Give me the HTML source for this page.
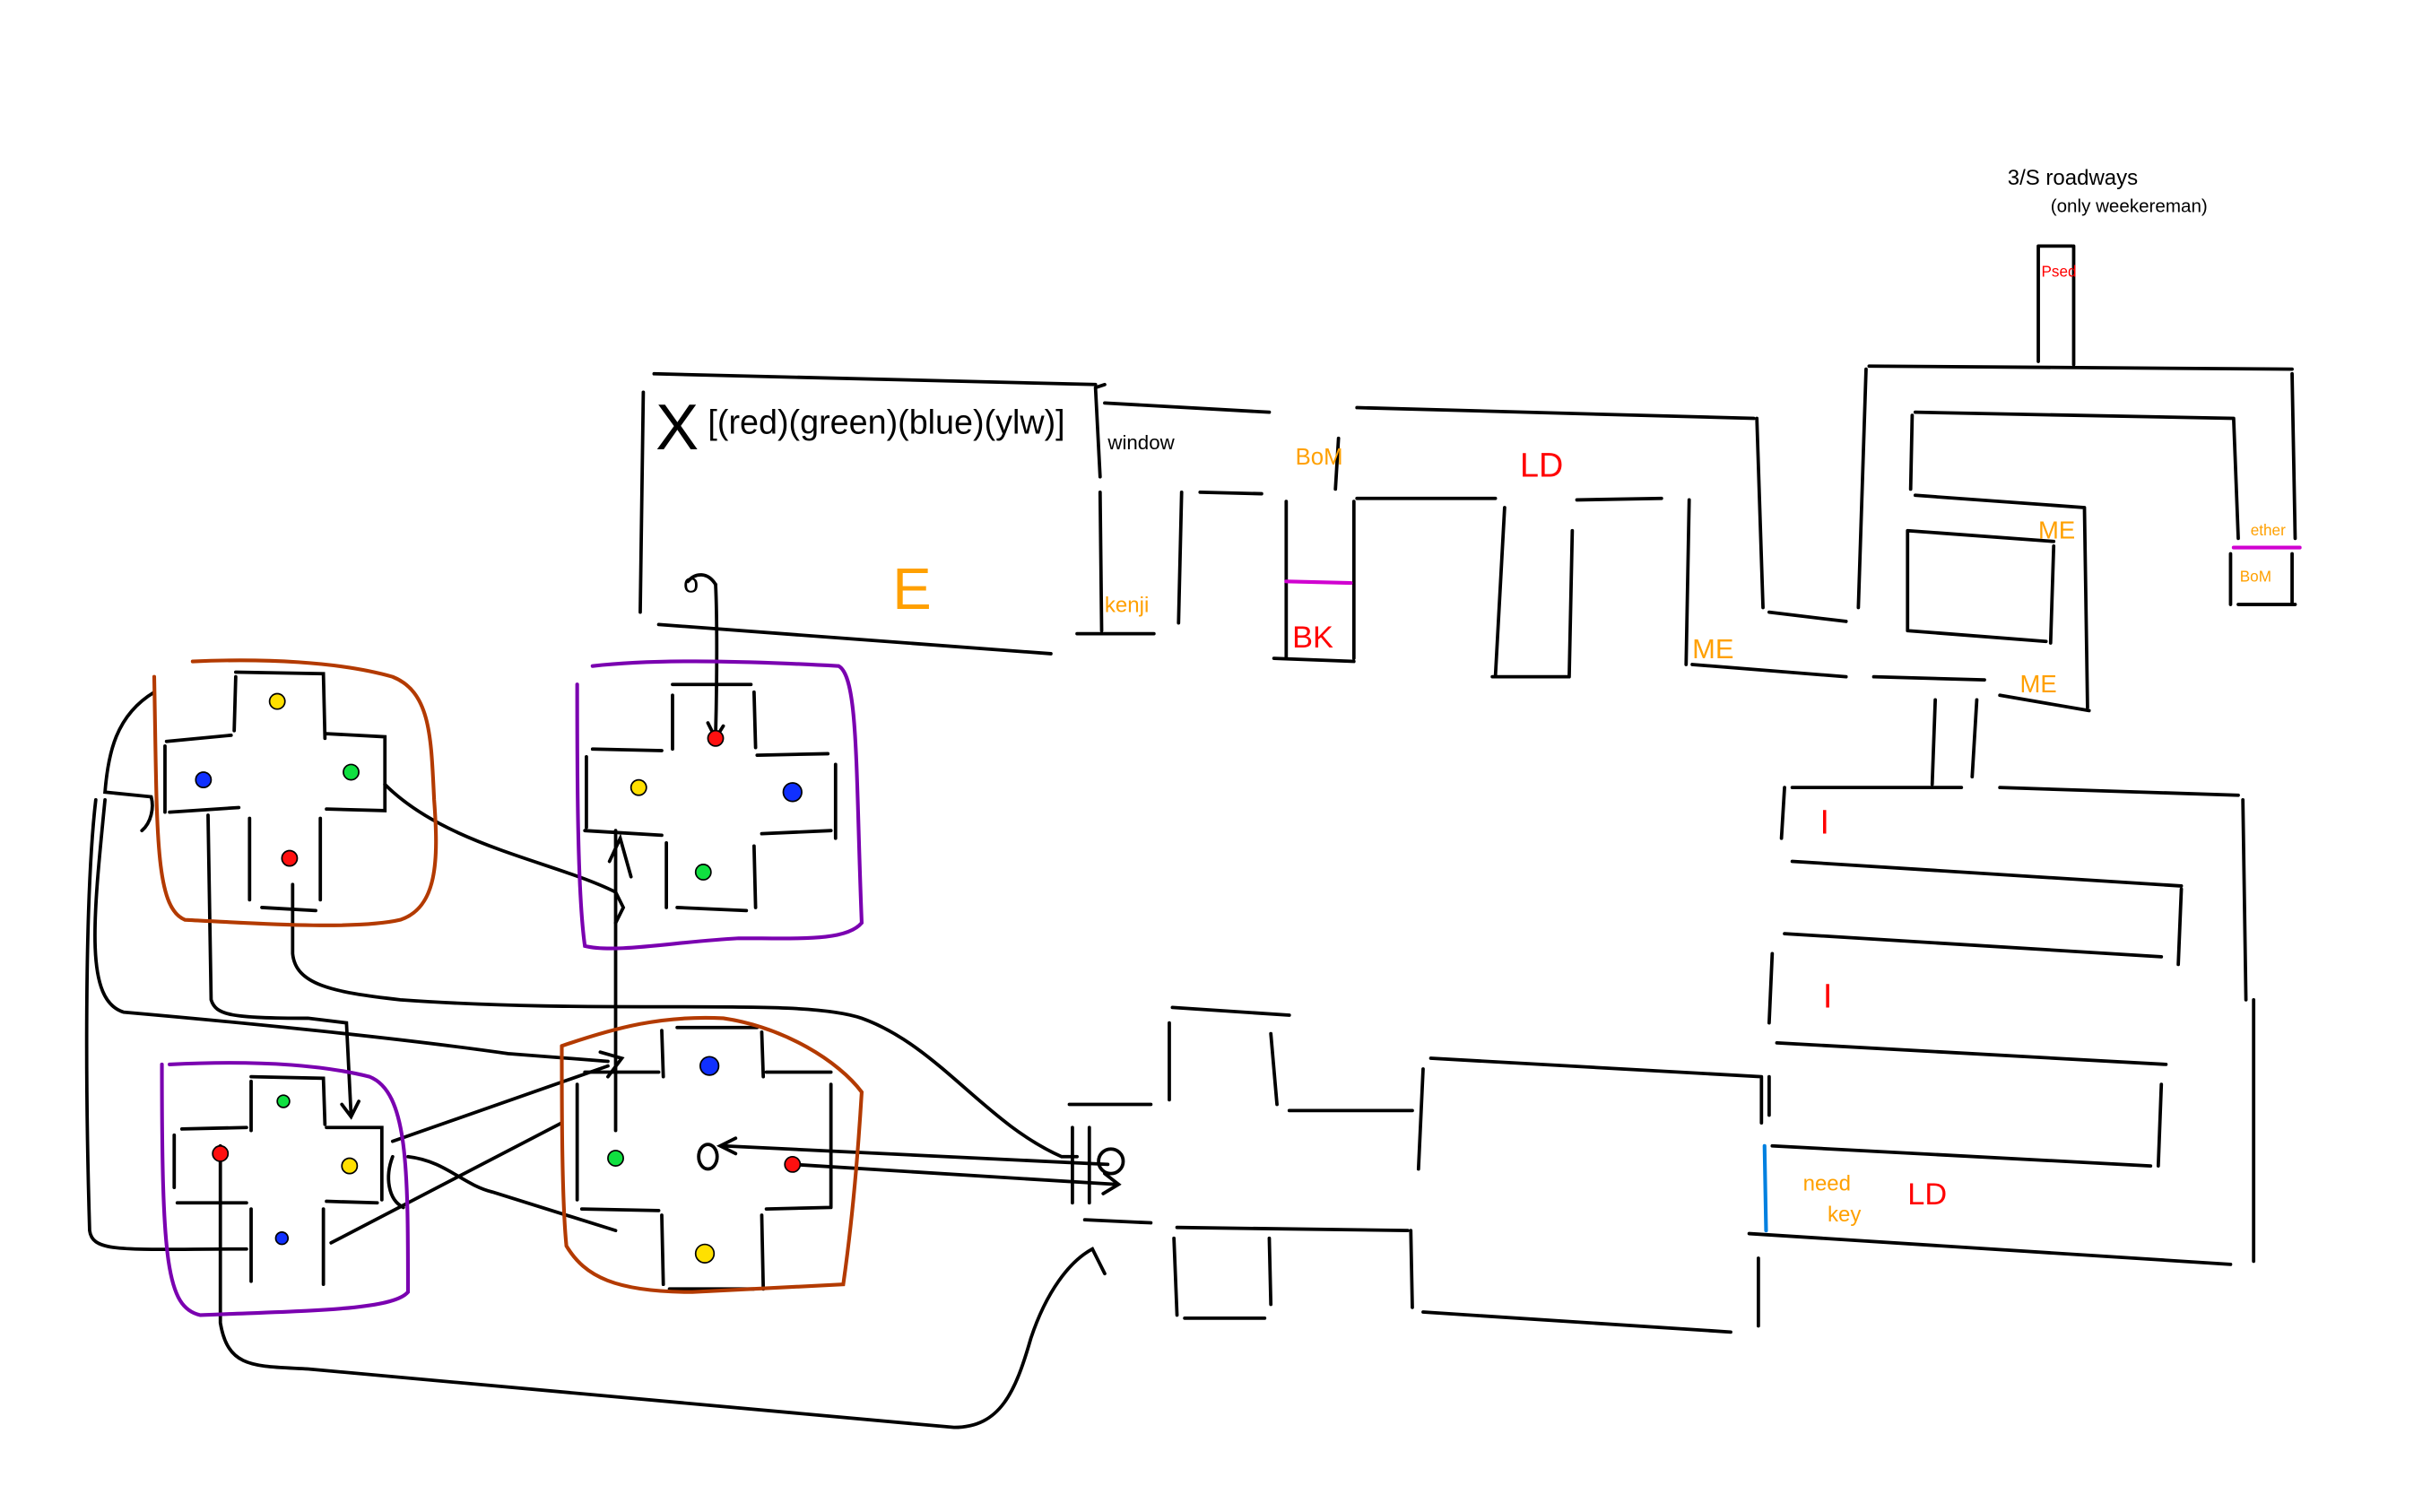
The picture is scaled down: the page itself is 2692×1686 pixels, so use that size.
<!DOCTYPE html>
<html><head><meta charset="utf-8"><style>html,body{margin:0;padding:0;background:#fff;overflow:hidden}svg{display:block}</style></head>
<body>
<svg width="2692" height="1686" viewBox="0 0 1569 983" xmlns="http://www.w3.org/2000/svg" font-family="Liberation Sans, sans-serif">
<rect width="1569" height="983" fill="#fff"/>
<g fill="none" stroke="#000" stroke-width="2.2" stroke-linecap="round">
<!-- top box -->
<path d="M425 243 L712 250 M418 255 L416 398 M428 406 L683 425 M712 252 L715 310 M712 252 L718 250"/>
<!-- top corridor -->
<path d="M718 262 L825 268 M882 265 L1140 272 M1142 272 L1146 395 M715 320 L716 410 M768 320 L766 405 M780 320 L820 321 M836 326 L836 428 M880 326 L880 428 M882 324 L972 324 M1025 325 L1080 324 M978 330 L972 440 M1022 345 L1020 440 M1098 325 L1096 432 M700 412 L750 412 M828 428 L880 430 M970 440 L1020 440"/>
<!-- right block -->
<path d="M1215 238 L1490 240 M1213 240 L1208 395 M1490 243 L1492 350 M1245 268 L1452 272 M1243 270 L1242 318 M1452 272 L1455 350 M1245 322 L1355 330 M1355 330 L1357 460 M1240 345 L1335 352 M1240 345 L1240 410 M1335 355 L1333 418 M1240 410 L1330 417 M1100 432 L1200 440 M1150 398 L1200 404 M1218 440 L1290 442 M1300 452 L1358 462 M1258 455 L1256 510 M1285 455 L1282 505 M1325 160 L1347 160 M1325 160 L1325 235 M1348 160 L1348 237 M1450 360 L1450 393 M1490 360 L1490 393 M1455 393 L1492 393"/>
<!-- lower right rows -->
<path d="M1165 512 L1275 512 M1300 512 L1455 517 M1160 512 L1158 545 M1458 520 L1460 650 M1465 650 L1465 820 M1165 560 L1418 576 M1418 578 L1416 627 M1160 607 L1405 622 M1152 620 L1150 665 M1155 678 L1408 692 M1405 705 L1403 758 M1152 745 L1398 758 M1150 700 L1150 725 M1137 802 L1450 822"/>
<!-- center bottom room & cross -->
<path d="M930 688 L1145 700 M925 695 L922 760 M1145 700 L1145 730 M917 800 L918 850 M925 853 L1125 866 M1143 818 L1143 862 M762 655 L838 660 M760 665 L760 715 M826 672 L830 718 M695 718 L748 718 M838 722 L918 722 M705 793 L748 795 M765 798 L915 800 M763 805 L765 855 M825 805 L826 848 M770 857 L822 857 M697 733 L697 782 M708 733 L708 782"/>
<circle cx="722" cy="755" r="8"/>
<!-- unit1 -->
<path d="M153 437 L210 438 L211 480 M153 440 L152 475 M108 482 L150 478 M212 477 L250 479 L250 527 L212 526 M107 485 L107 528 M110 528 L155 525 M162 532 L162 585 M208 532 L208 585 M170 590 L205 592"/>
<!-- unit2 -->
<path d="M437 445 L488 445 M437 452 L437 487 M490 450 L491 486 M385 487 L430 488 M492 491 L538 490 M381 492 L381 538 M543 497 L543 545 M380 540 L430 543 M495 542 L540 540 M433 548 L433 590 M490 550 L491 590 M440 590 L485 592"/>
<!-- unit3 -->
<path d="M163 700 L210 701 L211 731 M163 703 L163 735 M118 734 L160 733 M212 733 L248 733 L248 780 M113 738 L113 772 M115 782 L160 782 M212 781 L245 782 M163 786 L163 833 M210 786 L210 835"/>
<!-- unit4 -->
<path d="M440 668 L492 668 M430 670 L431 700 M495 671 L496 700 M380 697 L428 697 M498 697 L540 697 M375 705 L375 780 M540 705 L540 785 M378 786 L428 787 M498 786 L540 785 M430 790 L431 835 M495 790 L496 838 M435 838 L490 838"/>
<!-- connectors -->
<path d="M465 380 C466 400 466 440 465 478 M460 470 L465 480 L470 472"/>
<path d="M447 378 C452 372 460 372 465 380"/>
<path d="M250 510 C290 550 360 560 400 580 L405 590 L400 600"/>
<path d="M400 540 L400 735 M396 560 L403 545 L410 570"/>
<path d="M190 575 L190 620 C192 640 215 645 260 650 C400 660 520 648 560 662 C610 680 640 730 690 752 L700 752"/>
<path d="M135 530 L137 650 C140 660 150 662 200 662 L225 665 L228 725 M222 718 L228 726 L233 716"/>
<path d="M100 450 C75 465 70 490 68 515 L98 518 C100 525 98 535 92 540 M62 520 C55 580 55 700 58 800 C60 815 80 812 160 812"/>
<path d="M68 520 C60 600 55 650 80 658 C160 665 260 675 330 685 L395 690 M390 684 L404 688 L395 700"/>
<path d="M143 745 L143 860 C148 890 165 888 200 890 L620 928 C650 928 660 905 670 870 C680 840 695 820 710 812 L718 828"/>
<path d="M255 742 L395 693 M215 808 L365 730 M265 752 C290 755 300 770 320 775 L400 800"/>
<path d="M255 752 C250 765 252 780 262 785"/>
<path d="M515 757 L725 770 M718 763 L727 770 L717 776"/>
<path d="M720 757 L470 745 M478 740 L468 745 L478 750"/>
<path d="M460 752 m-6 0 a6 8 0 1 0 12 0 a6 8 0 1 0 -12 0"/>
<path d="M870 285 L868 318"/>
</g>
<!-- region outlines -->
<g fill="none" stroke-width="2.4" stroke-linecap="round">
<path stroke="#b33a00" d="M125 430 C170 428 220 430 255 440 C280 450 280 480 282 520 C285 560 284 590 260 598 C230 605 160 600 120 598 C100 590 102 540 100 440"/>
<path stroke="#b33a00" d="M365 680 C400 668 430 660 470 662 C510 668 545 690 560 710 C557 760 553 800 548 835 L450 840 C400 840 380 830 368 810 C365 780 365 720 365 680"/>
<path stroke="#7a00b0" d="M385 433 C430 428 490 430 545 433 C558 440 556 500 560 600 C550 612 520 610 480 610 C440 612 400 620 380 615 C375 580 375 500 375 445"/>
<path stroke="#7a00b0" d="M110 692 C150 690 200 690 240 700 C265 710 265 760 265 840 C255 852 200 852 130 855 C108 850 105 820 105 692"/>
<path stroke="#d000d0" d="M836 378 L878 379 M1452 356 L1495 356"/>
<path stroke="#0080e0" d="M1147 745 L1148 800"/>
</g>
<!-- dots -->
<g stroke="#000" stroke-width="1">
<circle cx="180" cy="456" r="5" fill="#ffe000"/><circle cx="132" cy="507" r="5" fill="#1030ff"/><circle cx="228" cy="502" r="5" fill="#10e040"/><circle cx="188" cy="558" r="5" fill="#ff1010"/>
<circle cx="465" cy="480" r="5" fill="#ff1010"/><circle cx="415" cy="512" r="5" fill="#ffe000"/><circle cx="515" cy="515" r="6" fill="#1030ff"/><circle cx="457" cy="567" r="5" fill="#10e040"/>
<circle cx="184" cy="716" r="4" fill="#10e040"/><circle cx="143" cy="750" r="5" fill="#ff1010"/><circle cx="227" cy="758" r="5" fill="#ffe000"/><circle cx="183" cy="805" r="4" fill="#1030ff"/>
<circle cx="461" cy="693" r="6" fill="#1030ff"/><circle cx="400" cy="753" r="5" fill="#10e040"/><circle cx="515" cy="757" r="5" fill="#ff1010"/><circle cx="458" cy="815" r="6" fill="#ffe000"/>
</g>
<!-- text -->
<g font-family="Liberation Sans, sans-serif">
<text x="426" y="292" font-size="42">X</text>
<text x="460" y="282" font-size="22">[(red)(green)(blue)(ylw)]</text>
<text x="720" y="292" font-size="13">window</text>
<text x="444" y="385" font-size="18">o</text>
<text x="580" y="396" font-size="38" fill="#ffa000">E</text>
<text x="842" y="302" font-size="15" fill="#ffa000">BoM</text>
<text x="988" y="310" font-size="22" fill="#ff0000">LD</text>
<text x="718" y="398" font-size="14" fill="#ffa000">kenji</text>
<text x="840" y="421" font-size="20" fill="#ff0000">BK</text>
<text x="1100" y="428" font-size="18" fill="#ffa000">ME</text>
<text x="1325" y="350" font-size="16" fill="#ffa000">ME</text>
<text x="1313" y="450" font-size="16" fill="#ffa000">ME</text>
<text x="1463" y="348" font-size="10" fill="#ffa000">ether</text>
<text x="1456" y="378" font-size="10" fill="#ffa000">BoM</text>
<text x="1305" y="120" font-size="14">3/S  roadways</text>
<text x="1333" y="138" font-size="12">(only weekereman)</text>
<text x="1327" y="180" font-size="10" fill="#ff0000">Psed</text>
<text x="1183" y="542" font-size="22" fill="#ff0000">I</text>
<text x="1185" y="655" font-size="22" fill="#ff0000">I</text>
<text x="1172" y="774" font-size="14" fill="#ffa000">need</text>
<text x="1188" y="794" font-size="14" fill="#ffa000">key</text>
<text x="1240" y="783" font-size="20" fill="#ff0000">LD</text>
</g>
</svg>
</body></html>
